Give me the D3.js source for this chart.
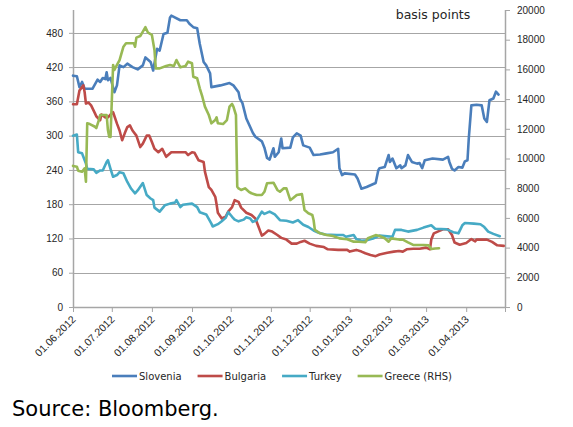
<!DOCTYPE html>
<html>
<head>
<meta charset="utf-8">
<script src="https://cdn.jsdelivr.net/npm/d3@7"></script>
<style>
  body { margin: 0; background: #fff; }
  svg { display: block; font-family: "DejaVu Sans", Verdana, sans-serif; }
</style>
</head>
<body>
<div id="wrapper"></div>
<script>
// spreads, basis points (Greece on the right-hand scale)
const slovenia = [
  ["01.06.2012", 405], ["04.06.2012", 404], ["06.06.2012", 385], ["08.06.2012", 394],
  ["10.06.2012", 382], ["16.06.2012", 382], ["20.06.2012", 398], ["22.06.2012", 394],
  ["24.06.2012", 401], ["26.06.2012", 399], ["27.06.2012", 411], ["28.06.2012", 397],
  ["30.06.2012", 401], ["03.07.2012", 376], ["05.07.2012", 388], ["07.07.2012", 423],
  ["10.07.2012", 420], ["13.07.2012", 426], ["17.07.2012", 420], ["21.07.2012", 416],
  ["25.07.2012", 423], ["27.07.2012", 437], ["31.07.2012", 429], ["02.08.2012", 414],
  ["05.08.2012", 452], ["07.08.2012", 449], ["10.08.2012", 478], ["13.08.2012", 480],
  ["15.08.2012", 507], ["16.08.2012", 510], ["23.08.2012", 502], ["28.08.2012", 502],
  ["30.08.2012", 496], ["02.09.2012", 490], ["05.09.2012", 488], ["07.09.2012", 461],
  ["10.09.2012", 429], ["12.09.2012", 423], ["15.09.2012", 409], ["16.09.2012", 385],
  ["23.09.2012", 388], ["30.09.2012", 392], ["03.10.2012", 388], ["07.10.2012", 376],
  ["08.10.2012", 365], ["10.10.2012", 357], ["13.10.2012", 330], ["16.10.2012", 315],
  ["18.10.2012", 305], ["20.10.2012", 298], ["25.10.2012", 290], ["27.10.2012", 279],
  ["29.10.2012", 261], ["31.10.2012", 258], ["03.11.2012", 278], ["04.11.2012", 263],
  ["07.11.2012", 271], ["09.11.2012", 295], ["10.11.2012", 278], ["16.11.2012", 279],
  ["18.11.2012", 297], ["21.11.2012", 304], ["24.11.2012", 300], ["26.11.2012", 283],
  ["01.12.2012", 279], ["04.12.2012", 266], ["09.12.2012", 267], ["14.12.2012", 269],
  ["19.12.2012", 271], ["23.12.2012", 277], ["24.12.2012", 243], ["26.12.2012", 231],
  ["28.12.2012", 234], ["05.01.2013", 232], ["07.01.2013", 225], ["10.01.2013", 207],
  ["14.01.2013", 210], ["21.01.2013", 217], ["23.01.2013", 239], ["24.01.2013", 243],
  ["28.01.2013", 245], ["31.01.2013", 266], ["01.02.2013", 254], ["03.02.2013", 260],
  ["06.02.2013", 243], ["09.02.2013", 248], ["10.02.2013", 243], ["13.02.2013", 248],
  ["15.02.2013", 266], ["18.02.2013", 254], ["22.02.2013", 251], ["24.02.2013", 252],
  ["26.02.2013", 243], ["28.02.2013", 257], ["06.03.2013", 260], ["14.03.2013", 258],
  ["18.03.2013", 263], ["19.03.2013", 254], ["21.03.2013", 242], ["23.03.2013", 239],
  ["26.03.2013", 245], ["29.03.2013", 244], ["31.03.2013", 255], ["02.04.2013", 257],
  ["03.04.2013", 295], ["05.04.2013", 353], ["09.04.2013", 354], ["13.04.2013", 353],
  ["15.04.2013", 330], ["17.04.2013", 324], ["19.04.2013", 362], ["22.04.2013", 365],
  ["24.04.2013", 377], ["26.04.2013", 372]
];

const bulgaria = [
  ["01.06.2012", 355], ["04.06.2012", 355], ["06.06.2012", 379], ["08.06.2012", 385],
  ["09.06.2012", 388], ["10.06.2012", 376], ["11.06.2012", 356], ["13.06.2012", 358],
  ["15.06.2012", 353], ["18.06.2012", 339], ["19.06.2012", 334], ["22.06.2012", 327],
  ["23.06.2012", 337], ["26.06.2012", 332], ["28.06.2012", 332], ["30.06.2012", 337],
  ["02.07.2012", 341], ["05.07.2012", 321], ["07.07.2012", 309], ["09.07.2012", 292],
  ["11.07.2012", 304], ["13.07.2012", 315], ["15.07.2012", 318], ["17.07.2012", 309],
  ["20.07.2012", 300], ["23.07.2012", 280], ["25.07.2012", 286], ["28.07.2012", 300],
  ["30.07.2012", 300], ["01.08.2012", 289], ["03.08.2012", 277], ["06.08.2012", 271],
  ["09.08.2012", 277], ["12.08.2012", 263], ["16.08.2012", 271], ["27.08.2012", 271],
  ["29.08.2012", 266], ["01.09.2012", 271], ["03.09.2012", 270], ["06.09.2012", 257],
  ["10.09.2012", 254], ["11.09.2012", 237], ["14.09.2012", 210], ["16.09.2012", 205],
  ["19.09.2012", 193], ["20.09.2012", 180], ["21.09.2012", 165], ["24.09.2012", 155],
  ["27.09.2012", 158], ["29.09.2012", 167], ["02.10.2012", 175], ["04.10.2012", 187],
  ["07.10.2012", 184], ["09.10.2012", 174], ["13.10.2012", 165], ["17.10.2012", 161],
  ["20.10.2012", 155], ["22.10.2012", 143], ["25.10.2012", 125], ["27.10.2012", 128],
  ["30.10.2012", 134], ["02.11.2012", 132], ["06.11.2012", 126], ["09.11.2012", 121],
  ["13.11.2012", 118], ["17.11.2012", 111], ["21.11.2012", 111], ["24.11.2012", 114],
  ["27.11.2012", 116], ["01.12.2012", 111], ["06.12.2012", 107], ["12.12.2012", 105],
  ["15.12.2012", 101], ["23.12.2012", 100], ["30.12.2012", 100], ["01.01.2013", 97],
  ["06.01.2013", 100], ["10.01.2013", 97], ["13.01.2013", 94], ["17.01.2013", 91],
  ["21.01.2013", 89], ["24.01.2013", 92], ["30.01.2013", 95], ["04.02.2013", 97],
  ["08.02.2013", 98], ["11.02.2013", 97], ["14.02.2013", 101], ["19.02.2013", 102],
  ["24.02.2013", 102], ["01.03.2013", 104], ["04.03.2013", 101], ["05.03.2013", 118],
  ["07.03.2013", 129], ["10.03.2013", 132], ["14.03.2013", 136], ["17.03.2013", 136],
  ["18.03.2013", 136], ["21.03.2013", 126], ["23.03.2013", 113], ["27.03.2013", 109],
  ["01.04.2013", 112], ["05.04.2013", 119], ["08.04.2013", 115], ["09.04.2013", 118],
  ["17.04.2013", 118], ["21.04.2013", 114], ["25.04.2013", 108], ["30.04.2013", 107]
];

const turkey = [
  ["01.06.2012", 300], ["04.06.2012", 302], ["05.06.2012", 271], ["08.06.2012", 269],
  ["09.06.2012", 263], ["11.06.2012", 251], ["12.06.2012", 242], ["17.06.2012", 241],
  ["19.06.2012", 235], ["22.06.2012", 239], ["24.06.2012", 239], ["27.06.2012", 254],
  ["28.06.2012", 257], ["30.06.2012", 242], ["02.07.2012", 228], ["05.07.2012", 231],
  ["07.07.2012", 236], ["10.07.2012", 234], ["13.07.2012", 219], ["16.07.2012", 207],
  ["19.07.2012", 199], ["21.07.2012", 204], ["25.07.2012", 217], ["28.07.2012", 196],
  ["31.07.2012", 190], ["02.08.2012", 187], ["03.08.2012", 174], ["07.08.2012", 167],
  ["11.08.2012", 178], ["15.08.2012", 181], ["19.08.2012", 183], ["20.08.2012", 187],
  ["23.08.2012", 175], ["25.08.2012", 179], ["01.09.2012", 181], ["05.09.2012", 175],
  ["07.09.2012", 166], ["12.09.2012", 162], ["16.09.2012", 146], ["17.09.2012", 141],
  ["21.09.2012", 145], ["24.09.2012", 150], ["27.09.2012", 156], ["29.09.2012", 166],
  ["02.10.2012", 158], ["04.10.2012", 153], ["07.10.2012", 150], ["11.10.2012", 153],
  ["13.10.2012", 157], ["16.10.2012", 155], ["18.10.2012", 149], ["21.10.2012", 152],
  ["25.10.2012", 167], ["27.10.2012", 163], ["31.10.2012", 167], ["04.11.2012", 162],
  ["08.11.2012", 152], ["13.11.2012", 151], ["18.11.2012", 148], ["22.11.2012", 152],
  ["26.11.2012", 144], ["30.11.2012", 140], ["04.12.2012", 134], ["08.12.2012", 130],
  ["13.12.2012", 127], ["22.12.2012", 126], ["27.12.2012", 126], ["29.12.2012", 123],
  ["04.01.2013", 126], ["06.01.2013", 119], ["10.01.2013", 116], ["14.01.2013", 117],
  ["19.01.2013", 120], ["24.01.2013", 125], ["03.02.2013", 123], ["05.02.2013", 135],
  ["10.02.2013", 135], ["15.02.2013", 132], ["22.02.2013", 135], ["27.02.2013", 139],
  ["05.03.2013", 143], ["08.03.2013", 137], ["17.03.2013", 136], ["22.03.2013", 131],
  ["26.03.2013", 129], ["29.03.2013", 143], ["31.03.2013", 147], ["07.04.2013", 146],
  ["12.04.2013", 145], ["15.04.2013", 140], ["18.04.2013", 132], ["22.04.2013", 128],
  ["27.04.2013", 124]
];

const greece = [
  ["01.06.2012", 9500], ["04.06.2012", 9450], ["05.06.2012", 9180], ["08.06.2012", 9110],
  ["10.06.2012", 9340], ["11.06.2012", 8440], ["12.06.2012", 12370], ["14.06.2012", 12320],
  ["18.06.2012", 12140], ["19.06.2012", 12050], ["21.06.2012", 12590], ["22.06.2012", 12930],
  ["27.06.2012", 12930], ["28.06.2012", 11920], ["29.06.2012", 11470], ["30.06.2012", 11450],
  ["02.07.2012", 16300], ["03.07.2012", 15960], ["05.07.2012", 16300], ["07.07.2012", 16630],
  ["10.07.2012", 17530], ["12.07.2012", 17760], ["18.07.2012", 17760], ["19.07.2012", 17530],
  ["20.07.2012", 18140], ["23.07.2012", 18250], ["25.07.2012", 18540], ["27.07.2012", 18840],
  ["29.07.2012", 18470], ["01.08.2012", 18320], ["03.08.2012", 17300], ["04.08.2012", 16070],
  ["07.08.2012", 16070], ["12.08.2012", 16230], ["15.08.2012", 16300], ["18.08.2012", 16230],
  ["20.08.2012", 16630], ["23.08.2012", 16140], ["27.08.2012", 16230], ["29.08.2012", 16520],
  ["01.09.2012", 16410], ["02.09.2012", 15510], ["05.09.2012", 15400], ["07.09.2012", 14730],
  ["09.09.2012", 14160], ["11.09.2012", 13490], ["14.09.2012", 12930], ["16.09.2012", 12370],
  ["19.09.2012", 12590], ["20.09.2012", 12770], ["21.09.2012", 12370], ["25.09.2012", 12320],
  ["28.09.2012", 12590], ["30.09.2012", 13490], ["02.10.2012", 13670], ["03.10.2012", 13490],
  ["05.10.2012", 12930], ["06.10.2012", 8100], ["07.10.2012", 7990], ["09.10.2012", 7880],
  ["12.10.2012", 7990], ["15.10.2012", 7760], ["17.10.2012", 7660], ["21.10.2012", 7540],
  ["25.10.2012", 7540], ["27.10.2012", 7760], ["29.10.2012", 8330], ["03.11.2012", 8370],
  ["06.11.2012", 7880], ["08.11.2012", 7760], ["11.11.2012", 7990], ["13.11.2012", 7990],
  ["16.11.2012", 7200], ["18.11.2012", 7320], ["21.11.2012", 7540], ["25.11.2012", 7600],
  ["27.11.2012", 6530], ["30.11.2012", 6310], ["03.12.2012", 6200], ["04.12.2012", 5860],
  ["05.12.2012", 5190], ["09.12.2012", 4960], ["14.12.2012", 4850], ["19.12.2012", 4780],
  ["24.12.2012", 4620], ["30.12.2012", 4560], ["04.01.2013", 4400], ["08.01.2013", 4390],
  ["13.01.2013", 4360], ["15.01.2013", 4630], ["21.01.2013", 4840], ["24.01.2013", 4780],
  ["28.01.2013", 4630], ["31.01.2013", 4400], ["02.02.2013", 4620], ["08.02.2013", 4540],
  ["11.02.2013", 4540], ["15.02.2013", 4350], ["19.02.2013", 4180], ["27.02.2013", 4180],
  ["03.03.2013", 4150], ["05.03.2013", 3900], ["08.03.2013", 3940], ["11.03.2013", 3960]
];

const seriesNames = ["Slovenia", "Bulgaria", "Turkey", "Greece (RHS)"];
const seriesColors = ["#4a7ebb", "#be4b48", "#46aac5", "#98b954"];
const monthTicks = ["01.06.2012", "01.07.2012", "01.08.2012", "01.09.2012", "01.10.2012",
  "01.11.2012", "01.12.2012", "01.01.2013", "01.02.2013", "01.03.2013", "01.04.2013"];
const leftTicks = [0, 60, 120, 180, 240, 300, 360, 420, 480];
const rightTicks = [0, 2000, 4000, 6000, 8000, 10000, 12000, 14000, 16000, 18000, 20000];
const axisStart = "01.06.2012";
const axisEnd = "01.05.2013";

const width = 573, height = 427;
const plot = { left: 73, right: 505, top: 10, bottom: 307 };
const grey = "#a6a6a6";
const textColor = "#262626";

const parse = d3.utcParse("%d.%m.%Y");

const svg = d3.select("#wrapper").append("svg")
  .attr("width", width)
  .attr("height", height);

const x = d3.scaleUtc()
  .domain([parse(axisStart), parse(axisEnd)])
  .range([plot.left, plot.right]);
const yLeft = d3.scaleLinear().domain([0, 520]).range([plot.bottom, plot.top]);
const yRight = d3.scaleLinear().domain([0, 20000]).range([plot.bottom, plot.top]);

// gridlines
svg.append("g")
  .selectAll("line")
  .data(leftTicks.filter((d) => d > 0))
  .join("line")
  .attr("x1", plot.left)
  .attr("x2", plot.right)
  .attr("y1", (d) => Math.round(yLeft(d)) + 0.5)
  .attr("y2", (d) => Math.round(yLeft(d)) + 0.5)
  .attr("stroke", grey)
  .attr("stroke-width", 1);

// left axis
const leftAxis = svg.append("g")
  .attr("transform", `translate(${plot.left},0)`)
  .call(d3.axisLeft(yLeft).tickValues(leftTicks).tickSize(4).tickPadding(6));
// right axis
const rightAxis = svg.append("g")
  .attr("transform", `translate(${plot.right},0)`)
  .call(d3.axisRight(yRight).tickValues(rightTicks).tickSize(5).tickPadding(7)
    .tickFormat(d3.format("d")));
// bottom axis
const bottomTicks = monthTicks.concat([axisEnd]).map(parse);
const bottomAxis = svg.append("g")
  .attr("transform", `translate(0,${plot.bottom})`)
  .call(d3.axisBottom(x).tickValues(bottomTicks).tickSize(5)
    .tickFormat((d, i) => (i < monthTicks.length ? monthTicks[i] : "")));

[leftAxis, rightAxis, bottomAxis].forEach((g) => {
  g.select(".domain").attr("stroke", grey).attr("stroke-width", 1.5);
  g.selectAll(".tick line").attr("stroke", grey);
  g.selectAll("text").attr("fill", textColor).style("font-size", "10px");
});
leftAxis.select(".domain").attr("d", `M0.5,${plot.top}V${plot.bottom}`);
rightAxis.select(".domain").attr("d", `M0.5,${plot.top}V${plot.bottom}`);
bottomAxis.select(".domain").attr("d", `M${plot.left},0.5H${plot.right}`);

bottomAxis.selectAll(".tick text")
  .style("font-size", "10.5px")
  .attr("text-anchor", "end")
  .attr("dy", null)
  .attr("y", 0)
  .attr("transform", "translate(3,13) rotate(-45)");

// lines
const allSeries = [slovenia, bulgaria, turkey, greece];
allSeries.forEach((data, i) => {
  const yScale = i === 3 ? yRight : yLeft;
  const line = d3.line()
    .x((d) => x(parse(d[0])))
    .y((d) => yScale(d[1]));
  svg.append("path")
    .datum(data)
    .attr("d", line)
    .attr("fill", "none")
    .attr("stroke", seriesColors[i])
    .attr("stroke-width", 2.6)
    .attr("stroke-linejoin", "round")
    .attr("stroke-linecap", "round");
});

// units label
svg.append("text")
  .attr("x", 433)
  .attr("y", 19)
  .attr("text-anchor", "middle")
  .attr("fill", textColor)
  .style("font-size", "12.5px")
  .text("basis points");

// legend
const legend = svg.append("g").attr("transform", "translate(112,376)");
let lx = 0;
seriesNames.forEach((name, i) => {
  legend.append("line")
    .attr("x1", lx).attr("x2", lx + 25)
    .attr("y1", 0).attr("y2", 0)
    .attr("stroke", seriesColors[i])
    .attr("stroke-width", 2.6);
  const t = legend.append("text")
    .attr("x", lx + 27)
    .attr("y", 3.5)
    .attr("fill", textColor)
    .style("font-size", "10px")
    .text(name);
  lx += 27 + t.node().getComputedTextLength() + 16;
});

// source
svg.append("text")
  .attr("x", 12)
  .attr("y", 416)
  .attr("fill", "#000")
  .style("font-size", "21px")
  .text("Source: Bloomberg.");
</script>
</body>
</html>
